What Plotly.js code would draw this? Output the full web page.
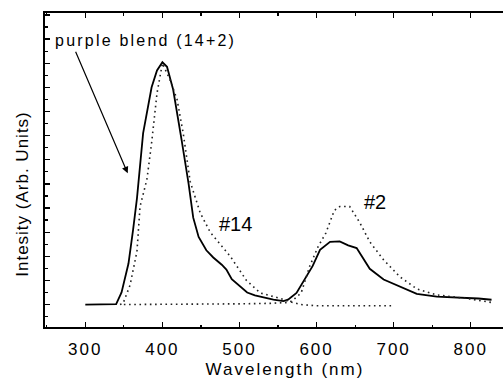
<!DOCTYPE html>
<html>
<head>
<meta charset="utf-8">
<script src="https://cdn.plot.ly/plotly-3.0.1.min.js"></script>
<style>
html, body { margin:0; padding:0; background:#fff; }
#wrap { width:503px; height:388px; overflow:hidden; position:relative; }
#chart { width:525px; height:388px; }
.xtick text { letter-spacing:2px; }
.g-xtitle text { letter-spacing:2px; }
.g-ytitle text { letter-spacing:1px; }
.g-ytitle { transform: translate(2px, 24px); }
.annotation[data-index="0"] text { letter-spacing:2.2px; }
</style>
</head>
<body>
<div id="wrap"><div id="chart"></div></div>
<script>
// Purple blend (14+2) — solid line
const blendX = [300,320,340,347,356,362,367,375,386,393,400,406,414,425,434,440,447,457,466,477,483,490,500,510,520,544,557,563,574,587,595,604.5,617.5,630,641,652,661,669,687,708,730,756,799,810,827];
const blendY = [0,0,0.02,0.5,1.7,3.1,4.4,7.1,9.0,9.7,10.04,9.85,8.9,6.8,5.0,3.6,2.8,2.25,1.95,1.65,1.45,1.05,0.76,0.5,0.38,0.2,0.14,0.2,0.48,1.17,1.6,2.27,2.6,2.62,2.45,2.34,1.86,1.48,1.04,0.76,0.44,0.33,0.28,0.25,0.2];

// #14 — dotted line
const s14X = [345,349,358,367,371,380,386,393,400,410,419,427,436,449,462,470,488,509,527,552,565,580,600,697];
const s14Y = [0,0.05,0.8,2.2,4.06,5.2,6.7,8.75,10.0,9.3,8.5,7.1,5.1,3.8,3.0,2.7,2.0,1.0,0.48,0.26,0.12,0.0,-0.05,-0.05];

// #2 — dotted line
const s2X = [350,400,450,500,540,560,568,580,591,602,612,623,630,643,656,669,687,708,730,756,795,830];
const s2Y = [0,0,0,0.03,0.05,0.08,0.14,0.48,1.58,2.4,2.96,3.9,4.06,4.06,3.4,2.6,1.85,1.15,0.65,0.4,0.25,0.07];

const xTitle = 'Wavelength (nm)';
const yTitle = 'Intesity (Arb. Units)';
const labels = ['purple blend (14+2)', '#14', '#2'];

const dotted = {color:'#222', width:1.6, dash:'1.6px,3.6px'};

const traces = [
  {x: blendX, y: blendY, mode:'lines', line:{color:'#000', width:1.8}, name:'blend'},
  {x: s14X, y: s14Y, mode:'lines', line:dotted, name:'#14'},
  {x: s2X, y: s2Y, mode:'lines', line:dotted, name:'#2'}
];

const font = 'Liberation Sans, Arial, sans-serif';

const layout = {
  width:525, height:388,
  margin:{l:45, r:0, t:13, b:60.5},
  paper_bgcolor:'#fff', plot_bgcolor:'#fff',
  showlegend:false,
  font:{family:font, color:'#000'},
  xaxis:{
    range:[247.7, 870.4],
    tickvals:[300,400,500,600,700,800],
    ticks:'inside', ticklen:5, tickwidth:1.3, tickcolor:'#000',
    minor:{dtick:50, ticks:'inside', ticklen:2.5, tickwidth:1.2, tickcolor:'#000'},
    showline:true, linecolor:'#000', linewidth:1.6, mirror:'allticks',
    showgrid:false, zeroline:false,
    ticklabelstandoff:6,
    tickfont:{size:17, family:font, color:'#000'},
    title:{text:xTitle, font:{size:17, family:font, color:'#000'}, standoff:5}
  },
  yaxis:{
    range:[-0.93, 12.08],
    dtick:1, tick0:0,
    ticks:'inside', ticklen:5, tickwidth:1.3, tickcolor:'#000',
    minor:{dtick:0.5, ticks:'inside', ticklen:2.5, tickwidth:1.2, tickcolor:'#000'},
    showticklabels:false,
    showline:true, linecolor:'#000', linewidth:1.6, mirror:true,
    showgrid:false, zeroline:false,
    title:{text:yTitle, font:{size:17, family:font, color:'#000'}, standoff:12}
  },
  annotations:[
    {x:377.5, y:10.95, xref:'x', yref:'y', text:labels[0], showarrow:false,
     xanchor:'center', yanchor:'middle', font:{size:16, family:font, color:'#000'}},
    {x:494.2, y:3.33, xref:'x', yref:'y', text:labels[1], showarrow:false,
     xanchor:'center', yanchor:'middle', font:{size:20, family:font, color:'#000'}},
    {x:675.4, y:4.26, xref:'x', yref:'y', text:labels[2], showarrow:false,
     xanchor:'center', yanchor:'middle', font:{size:20, family:font, color:'#000'}},
    {x:355, y:5.44, xref:'x', yref:'y', ax:286.6, ay:10.54, axref:'x', ayref:'y',
     text:'', showarrow:true, arrowhead:2, arrowsize:1.1, arrowwidth:1.2, arrowcolor:'#000'}
  ]
};

Plotly.newPlot('chart', traces, layout, {staticPlot:true, responsive:false, displayModeBar:false});
</script>
</body>
</html>
